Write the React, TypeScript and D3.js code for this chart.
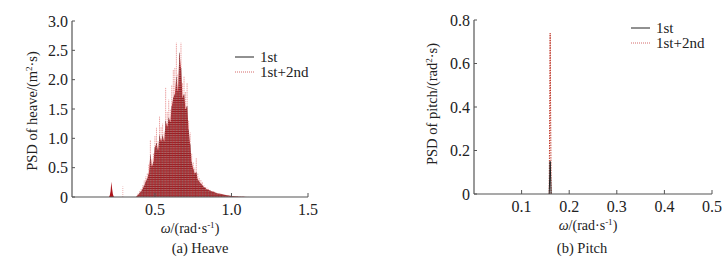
import React from 'react';
import * as d3 from 'd3';

// heave spectrum, grid 0.38..1.12 step 0.01
const heaveOmega = d3.range(75).map(i => +(0.38 + i * 0.01).toFixed(2));
const heaveFirst = [
  0.01, 0.04, 0.07, 0.10, 0.14, 0.20, 0.26, 0.32, 0.40, 0.72,
  0.52, 0.60, 0.85, 0.92, 0.80, 1.05, 0.95, 1.05, 0.95, 1.30,
  1.20, 1.35, 1.28, 1.55, 1.70, 1.75, 2.05, 1.80, 2.46, 2.20,
  1.70, 1.75, 1.50, 1.55, 1.15, 0.90, 0.60, 0.48, 0.40, 0.42,
  0.30, 0.26, 0.23, 0.20, 0.17, 0.15, 0.13, 0.12, 0.11, 0.10,
  0.09, 0.08, 0.07, 0.06, 0.055, 0.05, 0.045, 0.04, 0.035, 0.03,
  0.025, 0.02, 0.018, 0.015, 0.012, 0.01, 0.008, 0.006, 0.005, 0.004,
  0.003, 0.002, 0.001, 0.001, 0,
];
const heaveSecond = [
  0.02, 0.06, 0.10, 0.15, 0.20, 0.28, 0.35, 0.41, 0.55, 0.97,
  0.65, 0.75, 1.05, 1.18, 0.95, 1.37, 1.20, 1.25, 1.10, 1.86,
  1.45, 1.66, 1.50, 1.90, 2.17, 2.20, 2.63, 2.10, 2.40, 2.63,
  1.95, 2.05, 1.80, 1.95, 1.30, 1.10, 0.75, 0.60, 0.50, 0.66,
  0.40, 0.32, 0.30, 0.25, 0.20, 0.17, 0.16, 0.14, 0.12, 0.11,
  0.10, 0.09, 0.08, 0.07, 0.065, 0.06, 0.05, 0.045, 0.04, 0.035,
  0.03, 0.025, 0.02, 0.017, 0.014, 0.012, 0.01, 0.008, 0.006, 0.005,
  0.004, 0.003, 0.002, 0.001, 0,
];
// small low-frequency bump
const heaveLowOmega = [0.200, 0.205, 0.210, 0.215, 0.220, 0.225, 0.230, 0.235];
const heaveLowFirst = [0, 0.03, 0.10, 0.26, 0.14, 0.05, 0.01, 0];
const heaveLowSecondOmega = [0.29];
const heaveLowSecond = [0.18];

// pitch spectrum
const pitchOmega = [0.158, 0.160, 0.162];
const pitchFirst = [0, 0.15, 0];
const pitchSecond = [0, 0.74, 0];

const heaveXTicks = [0.5, 1.0, 1.5];
const heaveYTicks = [0, 0.5, 1.0, 1.5, 2.0, 2.5, 3.0];
const pitchXTicks = [0.1, 0.2, 0.3, 0.4, 0.5];
const pitchYTicks = [0, 0.2, 0.4, 0.6, 0.8];

const font = '"Liberation Serif", "Times New Roman", serif';
const axisColor = '#555';

type PanelProps = {
  x0: number; x1: number; y0: number; y1: number;
  xDomain: [number, number]; yDomain: [number, number];
  xTicks: number[]; yTicks: number[];
  xFmt: (v: number) => string; yFmt: (v: number) => string;
  yLabel: React.ReactNode; yLabelX: number; yLabelY: number;
  caption: string; captionX: number; xLabelX: number;
  legendX: number; legendY: number;
  children: (x: d3.ScaleLinear<number, number>, y: d3.ScaleLinear<number, number>) => React.ReactNode;
};

const Panel = (p: PanelProps) => {
  const x = d3.scaleLinear().domain(p.xDomain).range([p.x0, p.x1]);
  const y = d3.scaleLinear().domain(p.yDomain).range([p.y0, p.y1]);
  return (
    <g fontFamily={font} fill="#222">
      {p.children(x, y)}
      <line x1={p.x0} x2={p.x0} y1={p.y0} y2={p.y1} stroke={axisColor} strokeWidth={1.2} />
      <line x1={p.x0} x2={p.x1} y1={p.y0} y2={p.y0} stroke={axisColor} strokeWidth={1.2} />
      {p.yTicks.map(t => (
        <g key={'y' + t}>
          <line x1={p.x0} x2={p.x0 + 3} y1={y(t)} y2={y(t)} stroke={axisColor} />
          <text x={p.x0 - 4} y={y(t)} dy="0.35em" textAnchor="end" fontSize={16}>{p.yFmt(t)}</text>
        </g>
      ))}
      {p.xTicks.map(t => (
        <g key={'x' + t}>
          <line x1={x(t)} x2={x(t)} y1={p.y0} y2={p.y0 - 4} stroke={axisColor} />
          <text x={x(t)} y={p.y0 + 18} textAnchor="middle" fontSize={16}>{p.xFmt(t)}</text>
        </g>
      ))}
      <text transform={`translate(${p.yLabelX},${p.yLabelY}) rotate(-90)`} textAnchor="middle" fontSize={14.5}>{p.yLabel}</text>
      <text x={p.xLabelX} y={p.y0 + 36} textAnchor="middle" fontSize={14}>
        <tspan fontStyle="italic">ω</tspan>/(rad·s<tspan dy="-5" fontSize={9}>-1</tspan><tspan dy="5">)</tspan>
      </text>
      <text x={p.captionX} y={253} textAnchor="middle" fontSize={14.5}>{p.caption}</text>
      <line x1={p.legendX} x2={p.legendX + 19} y1={p.legendY} y2={p.legendY} stroke="#222" strokeWidth={1} />
      <text x={p.legendX + 25} y={p.legendY} dy="0.35em" fontSize={15}>1st</text>
      <line x1={p.legendX} x2={p.legendX + 19} y1={p.legendY + 15} y2={p.legendY + 15} stroke="#d46a6a" strokeWidth={1} strokeDasharray="1,1" />
      <text x={p.legendX + 25} y={p.legendY + 15} dy="0.35em" fontSize={15}>1st+2nd</text>
    </g>
  );
};

const spikes = (xs: number[], vs: number[], x: any, y: any, props: any, key: string) =>
  xs.map((w, i) => (
    <line key={key + i} x1={x(w)} x2={x(w)} y1={y(0)} y2={y(vs[i])} {...props} />
  ));

export default function App() {
  const fmt1 = (v: number) => (v === 0 ? '0' : d3.format('.1f')(v));
  return (
    <svg width={725} height={258} style={{ position: 'absolute', left: 0, top: 0, background: '#fff' }}>
      <Panel
        x0={72} x1={308} y0={197} y1={21}
        xDomain={[-0.042, 1.5]} yDomain={[0, 3.0]}
        xTicks={heaveXTicks} yTicks={heaveYTicks}
        xFmt={fmt1} yFmt={fmt1}
        yLabel={<>PSD of heave/(m<tspan dy="-5" fontSize={9}>2</tspan><tspan dy="5">·s)</tspan></>}
        yLabelX={37} yLabelY={111}
        caption="(a) Heave" captionX={200} xLabelX={190}
        legendX={235} legendY={57}
      >
        {(x, y) => {
          const area = d3.area<number>().x((_, i) => x(heaveOmega[i])).y0(y(0)).y1(d => y(d));
          const lowArea = d3.area<number>().x((_, i) => x(heaveLowOmega[i])).y0(y(0)).y1(d => y(d));
          return (
            <g>
              <path d={area(heaveFirst) || ''} fill="#ad141b" />
              <path d={lowArea(heaveLowFirst) || ''} fill="#ad141b" />
              {spikes(heaveOmega, heaveSecond, x, y, { stroke: '#eba3a3', strokeWidth: 1, strokeDasharray: '1.5,0.7' }, 's')}
              {spikes(heaveOmega, heaveFirst, x, y, { stroke: '#2a0000', strokeWidth: 0.6, opacity: 0.6 }, 'f')}
              {spikes(heaveLowSecondOmega, heaveLowSecond, x, y, { stroke: '#e8a0a0', strokeWidth: 0.8, strokeDasharray: '1,1' }, 'l')}
            </g>
          );
        }}
      </Panel>
      <Panel
        x0={474} x1={712} y0={194} y1={20}
        xDomain={[0, 0.5]} yDomain={[0, 0.8]}
        xTicks={pitchXTicks} yTicks={pitchYTicks}
        xFmt={fmt1} yFmt={fmt1}
        yLabel={<>PSD of  pitch/(rad<tspan dy="-5" fontSize={9}>2</tspan><tspan dy="5">·s)</tspan></>}
        yLabelX={437} yLabelY={104}
        caption="(b) Pitch" captionX={582} xLabelX={588}
        legendX={631} legendY={28}
      >
        {(x, y) => {
          const line = d3.line<number>().x((_, i) => x(pitchOmega[i])).y(d => y(d));
          return (
            <g>
              <path d={line(pitchSecond) || ''} fill="none" stroke="#c0392b" strokeWidth={1} strokeDasharray="1.5,1" />
              <path d={line(pitchFirst) || ''} fill="none" stroke="#222" strokeWidth={1} />
            </g>
          );
        }}
      </Panel>
    </svg>
  );
}
